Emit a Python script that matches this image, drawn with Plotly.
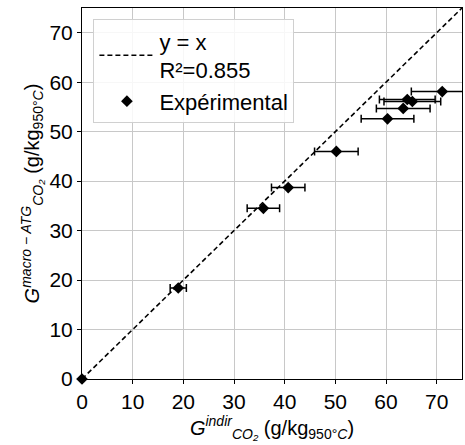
import plotly.graph_objects as go

x_indir = [0, 19.0, 35.8, 40.7, 50.2, 60.3, 63.4, 64.2, 65.2, 71.1]
y_macro = [0, 18.4, 34.5, 38.7, 46.0, 52.6, 54.7, 56.5, 56.1, 58.1]
x_err = [0, 1.6, 3.2, 3.3, 4.3, 5.2, 5.3, 5.5, 5.6, 6.1]
line_xy = [0, 75]

FONT = "Liberation Sans, Arial, sans-serif"

fig = go.Figure()
fig.add_trace(go.Scatter(
    x=line_xy, y=line_xy, mode="lines",
    line=dict(color="black", dash="5px,3px", width=1.6),
    name="y = x<br>R²=0.855",
))
fig.add_trace(go.Scatter(
    x=x_indir, y=y_macro, mode="markers",
    marker=dict(symbol="diamond", color="black", size=9),
    error_x=dict(type="data", array=x_err, visible=True, color="black", thickness=1.5, width=4),
    name="Expérimental", cliponaxis=False,
))

fig.update_layout(
    width=465, height=445,
    margin=dict(l=82, r=3, t=8, b=66),
    paper_bgcolor="white", plot_bgcolor="white",
    font=dict(family=FONT, size=21, color="black"),
    showlegend=True,
    legend=dict(
        x=0.03, y=0.97, xanchor="left", yanchor="top",
        bgcolor="rgba(255,255,255,0.85)", bordercolor="#d0d0d0", borderwidth=1,
        font=dict(size=22), tracegroupgap=6, itemwidth=55,
    ),
    xaxis=dict(
        range=[0, 75], tickvals=[0, 10, 20, 30, 40, 50, 60, 70],
        showgrid=True, gridcolor="#c8c8c8", gridwidth=1,
        showline=True, linecolor="black", linewidth=1, mirror=True,
        ticks="outside", ticklen=4, tickcolor="black", zeroline=False,
        automargin=False,
        title=dict(text="<i>G</i><sup><i>indir</i></sup><sub><i>CO₂</i></sub> (g/kg<sub>950°<i>C</i></sub>)",
                   font=dict(size=20), standoff=4),
    ),
    yaxis=dict(
        range=[0, 75], tickvals=[0, 10, 20, 30, 40, 50, 60, 70],
        showgrid=True, gridcolor="#c8c8c8", gridwidth=1,
        showline=True, linecolor="black", linewidth=1, mirror=True,
        ticks="outside", ticklen=4, tickcolor="black", zeroline=False,
        automargin=False,
        title=dict(text="<i>G</i><sup><i>macro − ATG</i></sup><sub><i>CO₂</i></sub> (g/kg<sub>950°<i>C</i></sub>)",
                   font=dict(size=20), standoff=4),
    ),
)

fig.write_html("out.html", config={"displayModeBar": False},
               post_script="document.body.style.margin='0';document.body.style.overflow='hidden';")
